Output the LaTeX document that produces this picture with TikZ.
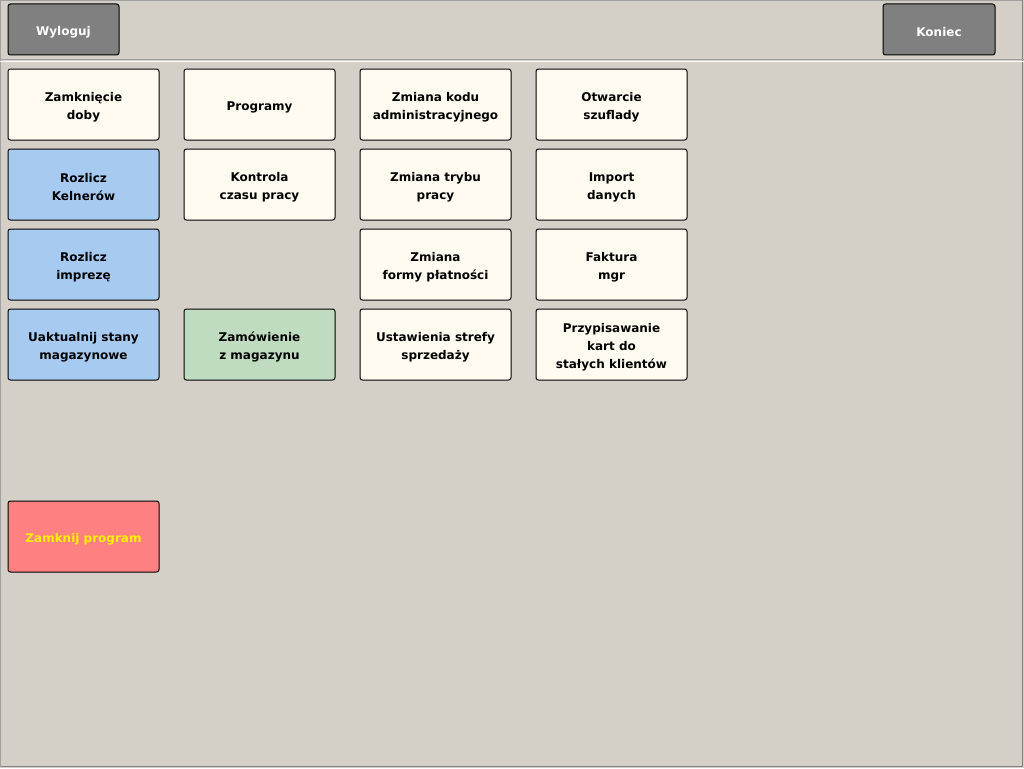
\documentclass[tikz,border=0pt]{standalone}
\usepackage{fontspec}
\setmainfont{DejaVu Sans}
\definecolor{bg}{HTML}{D4D0C8}
\definecolor{cream}{HTML}{FFFBF0}
\definecolor{lblue}{HTML}{A6CAF0}
\definecolor{lgreen}{HTML}{C0DCC0}
\definecolor{lred}{HTML}{FF8080}
\definecolor{dgray}{HTML}{808080}
\definecolor{edge}{HTML}{A0A0A0}
\newcommand{\mybtn}[5][black]{%
  \node[#2] (#3) at (#4) {};
  \node[btntext, text=#1] (#3-t) at (#3.center) {#5};}
\begin{document}
\begin{tikzpicture}[x=1pt,y=-1pt,
  btn/.style={draw=black, line width=1pt, rounded corners=2.5pt, minimum width=151pt, minimum height=71pt,
    inner sep=0pt},
  btntext/.style={inner sep=0pt, align=center, font=\fontsize{12}{18}\selectfont\bfseries, yshift=-2.5pt},
  topbtn/.style={btn, fill=dgray, minimum height=51pt},
  cbtn/.style={btn, fill=cream},
  bbtn/.style={btn, fill=lblue},
  gbtn/.style={btn, fill=lgreen},
  rbtn/.style={btn, fill=lred}]
\useasboundingbox (0,0) rectangle (1024,768);
\fill[bg] (0,0) rectangle (1024,768);
% frame
\draw[edge, line width=1pt] (0.5,767) -- (0.5,0.5) -- (1023,0.5);
\draw[dgray, line width=1pt] (0.5,766.5) -- (1022.5,766.5) -- (1022.5,0.5);
\draw[edge, line width=1pt] (0,59.5) -- (1024,59.5);
\draw[white!90!bg, line width=1pt] (0,61.5) -- (1024,61.5);
% top buttons
\mybtn[white]{topbtn, minimum width=111pt}{wyloguj}{63.5,29.5}{Wyloguj}
\mybtn[white]{topbtn, minimum width=112pt}{koniec}{939,29.5}{Koniec}
% column 1
\mybtn{cbtn}{zamkniecie}{83.5,104.5}{Zamknięcie\\doby}
\mybtn{bbtn}{kelnerow}{83.5,184.5}{Rozlicz\\Kelnerów}
\mybtn{bbtn}{imprez}{83.5,264.5}{Rozlicz\\imprezę}
\mybtn{bbtn}{uaktualnij}{83.5,344.5}{Uaktualnij stany\\magazynowe}
\mybtn[yellow]{rbtn}{zamknij}{83.5,536.5}{Zamknij program}
% column 2
\mybtn{cbtn}{programy}{259.5,104.5}{Programy}
\mybtn{cbtn}{kontrola}{259.5,184.5}{Kontrola\\czasu pracy}
\mybtn{gbtn}{zamowienie}{259.5,344.5}{Zamówienie\\z magazynu}
% column 3
\mybtn{cbtn}{kod}{435.5,104.5}{Zmiana kodu\\administracyjnego}
\mybtn{cbtn}{tryb}{435.5,184.5}{Zmiana trybu\\pracy}
\mybtn{cbtn}{forma}{435.5,264.5}{Zmiana\\formy płatności}
\mybtn{cbtn}{strefy}{435.5,344.5}{Ustawienia strefy\\sprzedaży}
% column 4
\mybtn{cbtn}{szuflady}{611.5,104.5}{Otwarcie\\szuflady}
\mybtn{cbtn}{import}{611.5,184.5}{Import\\danych}
\mybtn{cbtn}{faktura}{611.5,264.5}{Faktura\\mgr}
\mybtn{cbtn}{karty}{611.5,344.5}{Przypisawanie\\kart do\\stałych klientów}
\end{tikzpicture}
\end{document}
